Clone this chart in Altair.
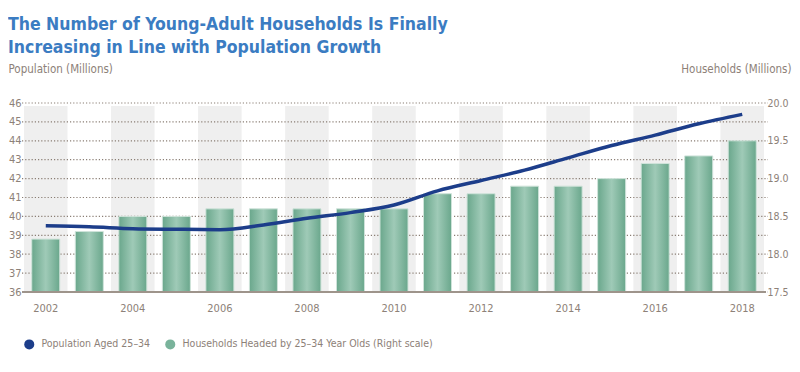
import altair as alt
import pandas as pd

years = list(range(2002, 2019))
population = [39.5, 39.45, 39.35, 39.32, 39.3, 39.55, 39.9, 40.2, 40.6, 41.35, 41.9, 42.45, 43.1, 43.75, 44.3, 44.9, 45.4]
households = [18.2, 18.3, 18.5, 18.5, 18.6, 18.6, 18.6, 18.6, 18.6, 18.8, 18.8, 18.9, 18.9, 19.0, 19.2, 19.3, 19.5]
grid_values = list(range(36, 47))
band_years = [y for y in years if y % 2 == 0]
series_names = ["Population Aged 25–34", "Households Headed by 25–34 Year Olds (Right scale)"]

FONT = "DejaVu Sans Condensed, Liberation Sans Narrow, Roboto, sans-serif"
GREY = "#8d8178"
NAVY = "#1c3d8a"
GREEN = "#79b39b"
W, H = 740, 189

df = pd.DataFrame({"year": years, "pop": population, "hh": households})
bands_df = pd.DataFrame({"year": band_years})
grid_df = pd.DataFrame({"v": grid_values})
leg_df = pd.DataFrame({"series": series_names, "year": [2002, 2002]})

xscale = alt.Scale(domain=years, paddingInner=0, paddingOuter=0)
xenc = alt.X("year:O", scale=xscale,
             axis=alt.Axis(title=None, labelAngle=0, ticks=False, domain=False,
                           labelExpr="datum.value % 2 == 0 ? datum.label : ''",
                           labelPadding=10, labelFontSize=11, labelColor=GREY, labelFont=FONT))

bands = alt.Chart(bands_df).mark_rect(color="#efefef").encode(
    x=xenc, y=alt.value(3), y2=alt.value(H)
)

grid = alt.Chart(grid_df).mark_rule(color="#8a7e74", strokeDash=[1.2, 2], strokeWidth=1.2).encode(
    y=alt.Y("v:Q", scale=alt.Scale(domain=[36, 46], zero=False, nice=False), axis=None),
    x=alt.value(-2), x2=alt.value(W + 4)
)

bar_fill = alt.Gradient(gradient="linear", x1=0, x2=1, y1=0, y2=0,
                        stops=[alt.GradientStop(color="#6aa78c", offset=0),
                               alt.GradientStop(color="#9fcab7", offset=0.5),
                               alt.GradientStop(color="#6aa78c", offset=1)])

bars = alt.Chart(df).mark_bar(fill=bar_fill, stroke="#cfe3da", strokeWidth=1, width=28).encode(
    x=xenc,
    y=alt.Y("hh:Q", scale=alt.Scale(domain=[17.5, 20.0], zero=False, nice=False),
            axis=alt.Axis(orient="right", values=[17.5, 18.0, 18.5, 19.0, 19.5, 20.0], format=".1f",
                          grid=False, ticks=False, domain=False, labelPadding=3,
                          labelFontSize=10.5, labelColor=GREY, labelFont=FONT,
                          title="Households (Millions)", titleAngle=0, titleAlign="right",
                          titleBaseline="alphabetic", titleX=27, titleY=-31,
                          titleFont=FONT, titleFontSize=11.5, titleFontWeight="normal", titleColor=GREY)),
    y2=alt.datum(17.5)
)

baseline = alt.Chart(grid_df).mark_rule(color="#9e948b", strokeWidth=2).encode(
    x=alt.value(-2), x2=alt.value(W + 2), y=alt.value(H)
)

line = alt.Chart(df).mark_line(color=NAVY, strokeWidth=3.5, interpolate="monotone").encode(
    x=xenc,
    y=alt.Y("pop:Q", scale=alt.Scale(domain=[36, 46], zero=False, nice=False),
            axis=alt.Axis(orient="left", values=grid_values, grid=False, ticks=False, domain=False,
                          labelPadding=3, labelFontSize=11, labelColor=GREY, labelFont=FONT,
                          title="Population (Millions)", titleAngle=0, titleAlign="left",
                          titleBaseline="alphabetic", titleX=-16, titleY=-31,
                          titleFont=FONT, titleFontSize=11.5, titleFontWeight="normal", titleColor=GREY))
)

legend_layer = alt.Chart(leg_df).mark_point(filled=True, opacity=0, size=0).encode(
    x=xenc,
    color=alt.Color("series:N", sort=series_names,
                    scale=alt.Scale(domain=series_names, range=[NAVY, GREEN]),
                    legend=alt.Legend(title=None, orient="none", legendX=0, legendY=236,
                                      direction="horizontal", symbolType="circle", symbolSize=100,
                                      symbolOpacity=1, symbolStrokeWidth=0, labelLimit=400,
                                      labelFont=FONT, labelFontSize=10.5, labelColor=GREY,
                                      labelOffset=7, columnPadding=14, padding=0))
)

chart = alt.layer(bands, grid, bars, baseline, line, legend_layer).resolve_scale(
    y="independent"
).properties(
    width=W, height=H,
    padding={"left": 16, "top": 95, "right": 28, "bottom": 62},
    autosize=alt.AutoSizeParams(type="none"),
    title=alt.TitleParams(
        text=["The Number of Young-Adult Households Is Finally", "Increasing in Line with Population Growth"],
        anchor="start", frame="group", dx=-16, offset=7,
        font=FONT, fontSize=17.5, fontWeight="bold", color="#3b7cc2", lineHeight=23),
).configure_view(stroke=None)

chart.save("out.html", embed_options={"renderer": "svg", "actions": False})
